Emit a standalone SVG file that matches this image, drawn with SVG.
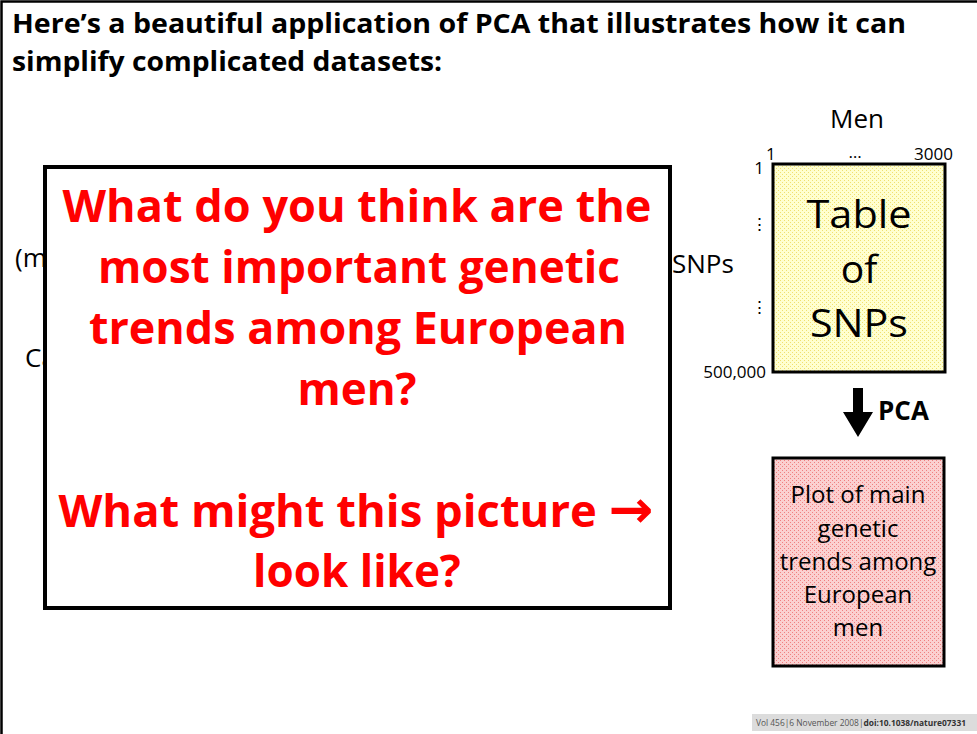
<svg xmlns="http://www.w3.org/2000/svg" width="977" height="734" viewBox="0 0 977 734">
<defs>
<pattern id="py" width="4" height="4" patternUnits="userSpaceOnUse">
<rect width="4" height="4" fill="#ffffd0"/>
<rect x="0" y="0" width="1" height="1" fill="#f0e070"/>
<rect x="2" y="2" width="1" height="1" fill="#f0e070"/>
</pattern>
<pattern id="pp" width="4" height="4" patternUnits="userSpaceOnUse">
<rect width="4" height="4" fill="#fbd0d0"/>
<rect x="0" y="0" width="1" height="1" fill="#f08080"/>
<rect x="2" y="2" width="1" height="1" fill="#f08080"/>
</pattern>
<style>
text{font-family:"Open Sans","Liberation Sans",sans-serif;fill:#000}
.h{font-size:26px;font-weight:bold}
.red{font-size:44px;font-weight:bold;fill:#ff0000;text-anchor:middle}
.m{font-size:26px}
.s{font-size:17px}
.big{font-size:39px;text-anchor:middle}
.pl{font-size:24px;text-anchor:middle}
.arr{font-family:"DejaVu Sans",sans-serif;font-weight:bold;font-size:52px}
</style>
</defs>
<rect x="0" y="0" width="977" height="734" fill="#fff"/>
<path d="M1.5 734 V1.5 H977" fill="none" stroke="#000" stroke-width="2.5"/>
<g id="heading">
<text class="h" x="12" y="33" textLength="894" lengthAdjust="spacingAndGlyphs">Here’s a beautiful application of PCA that illustrates how it can</text>
<text class="h" x="12" y="71" textLength="430" lengthAdjust="spacingAndGlyphs">simplify complicated datasets:</text>
</g>
<g id="hidden-labels">
<text class="m" x="15" y="267">(m</text>
<text class="m" x="25" y="367">Ca</text>
</g>
<g id="overlay">
<rect x="45" y="167" width="625" height="441" fill="#fff" stroke="#000" stroke-width="4"/>
<text class="red" x="357" y="222" textLength="589" lengthAdjust="spacingAndGlyphs">What do you think are the</text>
<text class="red" x="359" y="283" textLength="522" lengthAdjust="spacingAndGlyphs">most important genetic</text>
<text class="red" x="358" y="344" textLength="538" lengthAdjust="spacingAndGlyphs">trends among European</text>
<text class="red" x="357" y="405">men?</text>
<text class="red" x="356" y="527" textLength="595" lengthAdjust="spacingAndGlyphs">What might this picture <tspan class="arr">→</tspan></text>
<text class="red" x="357" y="587">look like?</text>
</g>
<g id="table">
<text class="m" x="857" y="128" text-anchor="middle">Men</text>
<text class="s" x="766" y="160">1</text>
<text class="s" x="855" y="158" text-anchor="middle">…</text>
<text class="s" x="953" y="160" text-anchor="end">3000</text>
<text class="s" x="764" y="174" text-anchor="end">1</text>
<text class="s" x="759" y="230" text-anchor="middle">⋮</text>
<text class="s" x="759" y="313" text-anchor="middle">⋮</text>
<text class="s" x="766" y="378" text-anchor="end">500,000</text>
<text class="m" x="672" y="273">SNPs</text>
<rect x="773" y="164" width="172" height="208" fill="url(#py)" stroke="#000" stroke-width="3"/>
<text class="big" x="859" y="228" textLength="105" lengthAdjust="spacingAndGlyphs">Table</text>
<text class="big" x="859" y="283">of</text>
<text class="big" x="859" y="337" textLength="98" lengthAdjust="spacingAndGlyphs">SNPs</text>
</g>
<g id="connectors">
<polygon points="853,388 863,388 863,412 873,412 858,437 843,412 853,412" fill="#000"/>
<text class="h" x="878" y="420">PCA</text>
</g>
<g id="plot">
<rect x="773" y="458" width="171" height="208" fill="url(#pp)" stroke="#000" stroke-width="3"/>
<text class="pl" x="858" y="503">Plot of main</text>
<text class="pl" x="858" y="537">genetic</text>
<text class="pl" x="858" y="570">trends among</text>
<text class="pl" x="858" y="603">European</text>
<text class="pl" x="858" y="636">men</text>
</g>
<g id="footer">
<rect x="752" y="714" width="225" height="17" fill="#dcdcdc"/>
<text x="756" y="726" textLength="210" lengthAdjust="spacingAndGlyphs" style="font-size:9px;fill:#555">Vol 456|6 November 2008|<tspan style="font-weight:bold;fill:#333">doi:10.1038/nature07331</tspan></text>
</g>
</svg>
